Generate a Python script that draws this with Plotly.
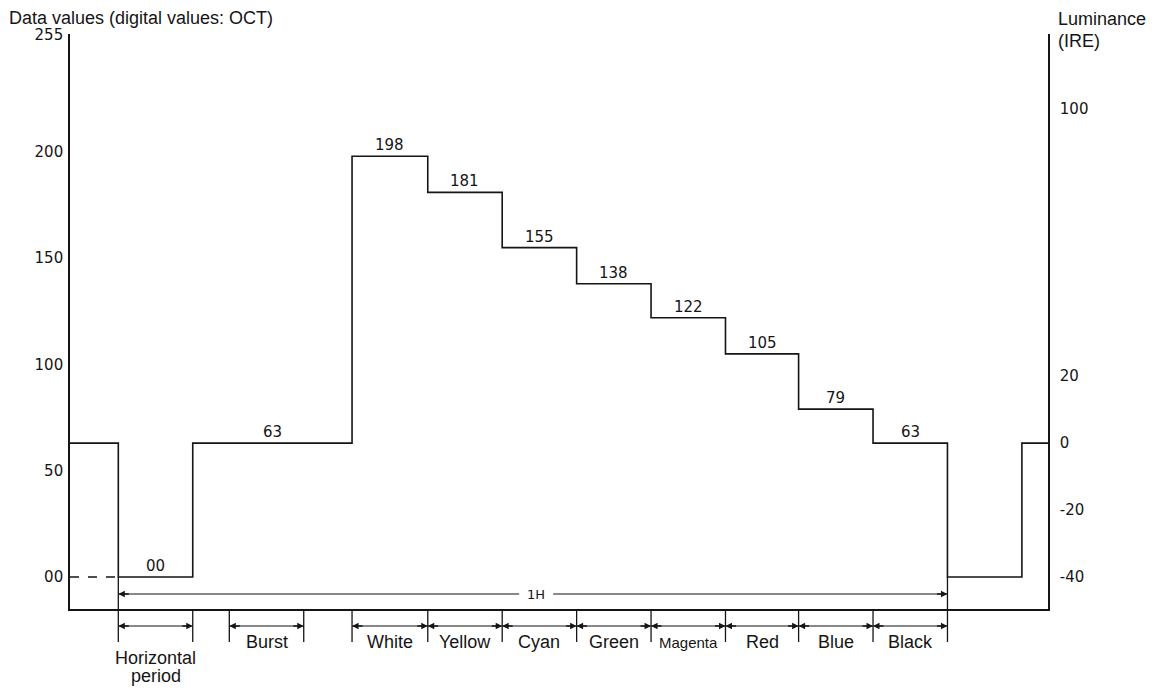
import plotly.graph_objects as go

# ---------------- data ----------------
# time axis (microseconds, 0 = start of the horizontal period)
edges_us = [-3.7, 0.0, 5.7, 17.9, 23.7, 29.4, 35.1, 40.8, 46.5, 52.1, 57.8, 63.5, 69.2, 71.2]
levels = [63, 0, 63, 198, 181, 155, 138, 122, 105, 79, 63, 0, 63]
level_labels = ["", "00", "63", "198", "181", "155", "138", "122", "105", "79", "63", "", ""]

band_names = ["Horizontal\nperiod", "Burst", "White", "Yellow", "Cyan", "Green",
              "Magenta", "Red", "Blue", "Black"]
band_start = [0.0, 8.5, 17.9, 23.7, 29.4, 35.1, 40.8, 46.5, 52.1, 57.8]
band_end = [5.7, 14.2, 23.7, 29.4, 35.1, 40.8, 46.5, 52.1, 57.8, 63.5]

one_h = [0.0, 63.5]
one_h_label = "1H"

left_tickvals = [0, 50, 100, 150, 200, 255]
left_ticktext = ["00", "50", "100", "150", "200", "255"]
ire_tickvals = [-40, -20, 0, 20, 100]
ire_ticktext = ["-40", "-20", "0", "20", "100"]
ire_ref_data = 63      # data value at 0 IRE
ire_per_data = 40 / 63  # IRE per data unit (0 data = -40 IRE)

# ---------------- layout geometry ----------------
PAGE_W, PAGE_H = 1160, 690
OFF = 8  # default page body margin
W, H = PAGE_W - OFF, PAGE_H - OFF
ML, MR, MT, MB = 70 - OFF, 112, 34 - OFF, 81
PW, PH = W - ML - MR, H - MT - MB
Y_RANGE = [-15.06, 255.5]
X_RANGE = [edges_us[0], edges_us[-1]]
INK = "#151515"
LW = 1.6


def to_ire(v):
    return (v - ire_ref_data) * ire_per_data


def py(pix):  # page pixel y -> paper y
    return (PAGE_H - MB - pix) / PH


def px(pix):  # page pixel x -> paper x
    return (pix - OFF - ML) / PW


def d2p(v):  # data y -> paper y
    return (v - Y_RANGE[0]) / (Y_RANGE[1] - Y_RANGE[0])


fig = go.Figure()

step_y = levels + [levels[-1]]
fig.add_trace(go.Scatter(x=edges_us, y=step_y, mode="lines", line_shape="hv",
                         line=dict(color=INK, width=LW), hoverinfo="skip",
                         showlegend=False))
fig.add_trace(go.Scatter(x=edges_us, y=[to_ire(v) for v in step_y], yaxis="y2",
                         mode="lines", line_shape="hv", opacity=0,
                         line=dict(color=INK, width=0.1), hoverinfo="skip",
                         showlegend=False))

shapes = []
annotations = []

# dashed line at the 00 level
shapes.append(dict(type="line", xref="x", yref="y", x0=edges_us[0], x1=edges_us[1],
                   y0=0, y1=0, line=dict(color=INK, width=1.3, dash="dash")))

# level labels
mono = dict(family="DejaVu Sans", size=15, color=INK)
for i, lab in enumerate(level_labels):
    if not lab:
        continue
    xm = (edges_us[i] + edges_us[i + 1]) / 2
    annotations.append(dict(x=xm, y=levels[i], xref="x", yref="y", text=lab,
                            showarrow=False, yanchor="bottom", font=mono))


def arrowhead(x, y, yref, direction):
    annotations.append(dict(x=x, y=y, xref="x", yref=yref, text="", showarrow=True,
                            ax=direction * 12, ay=0, arrowhead=2, arrowsize=1,
                            arrowwidth=1.3, arrowcolor=INK, standoff=0))


# 1H dimension line
y1h = -8
gap_l, gap_r = 30.7, 33.3
shapes.append(dict(type="line", xref="x", yref="y", x0=one_h[0], x1=gap_l, y0=y1h, y1=y1h,
                   line=dict(color=INK, width=1.2)))
shapes.append(dict(type="line", xref="x", yref="y", x0=gap_r, x1=one_h[1], y0=y1h, y1=y1h,
                   line=dict(color=INK, width=1.2)))
annotations.append(dict(x=(gap_l + gap_r) / 2, y=y1h, xref="x", yref="y", text=one_h_label,
                        showarrow=False, font=dict(family="DejaVu Sans", size=13, color=INK)))
arrowhead(one_h[0], y1h, "y", 1)
arrowhead(one_h[1], y1h, "y", -1)

# band dimension lines below the axis
y_dim = py(626)
y_tick_bot = py(642)
label_font = dict(family="Liberation Sans, Arial, sans-serif", size=18, color=INK)
tick_xs = set()
for name, a, b in zip(band_names, band_start, band_end):
    shapes.append(dict(type="line", xref="x", yref="paper", x0=a, x1=b, y0=y_dim, y1=y_dim,
                       line=dict(color=INK, width=1.2)))
    arrowhead(a, y_dim, "paper", 1)
    arrowhead(b, y_dim, "paper", -1)
    tick_xs.update([a, b])
    xm = (a + b) / 2
    lines = name.split("\n")
    fsize = 15 if name == "Magenta" else 18
    if len(lines) == 1:
        annotations.append(dict(x=xm, y=py(642), xref="x", yref="paper", text=name,
                                showarrow=False, yanchor="middle",
                                font=dict(label_font, size=fsize)))
    else:
        for k, ln in enumerate(lines):
            annotations.append(dict(x=xm, y=py(658 + 18 * k), xref="x", yref="paper",
                                    text=ln, showarrow=False, yanchor="middle",
                                    font=dict(label_font, size=fsize)))

for tx in sorted(tick_xs):
    top = d2p(0) if tx in one_h else 0
    shapes.append(dict(type="line", xref="x", yref="paper", x0=tx, x1=tx,
                       y0=y_tick_bot, y1=top, line=dict(color=INK, width=1.3)))

# axis titles
title_font = dict(family="Liberation Sans, Arial, sans-serif", size=18, color=INK)
annotations.append(dict(x=px(7), y=py(18), xref="paper", yref="paper", xanchor="left",
                        yanchor="middle", text="Data values (digital values: OCT)",
                        showarrow=False, font=title_font))
annotations.append(dict(x=px(1056), y=py(19), xref="paper", yref="paper", xanchor="left",
                        yanchor="middle", text="Luminance", showarrow=False, font=title_font))
annotations.append(dict(x=px(1056), y=py(41), xref="paper", yref="paper", xanchor="left",
                        yanchor="middle", text="(IRE)", showarrow=False, font=title_font))

tick_font = dict(family="DejaVu Sans", size=15, color=INK)
fig.update_layout(
    width=W, height=H, autosize=False,
    margin=dict(l=ML, r=MR, t=MT, b=MB, pad=0),
    paper_bgcolor="white", plot_bgcolor="white",
    showlegend=False,
    xaxis=dict(range=X_RANGE, showline=True, linecolor=INK, linewidth=LW,
               showticklabels=False, ticks="", showgrid=False, zeroline=False,
               fixedrange=True),
    yaxis=dict(range=Y_RANGE, showline=True, linecolor=INK, linewidth=LW,
               tickvals=left_tickvals, ticktext=left_ticktext, ticks="",
               tickfont=tick_font, ticklabelstandoff=2, showgrid=False, zeroline=False,
               fixedrange=True),
    yaxis2=dict(range=[to_ire(Y_RANGE[0]), to_ire(Y_RANGE[1])], overlaying="y",
                side="right", showline=True, linecolor=INK, linewidth=LW,
                tickvals=ire_tickvals, ticktext=ire_ticktext, ticks="",
                tickfont=tick_font, ticklabelstandoff=7, showgrid=False,
                zeroline=False, fixedrange=True),
    shapes=shapes,
    annotations=annotations,
)

fig.write_html("out.html")
